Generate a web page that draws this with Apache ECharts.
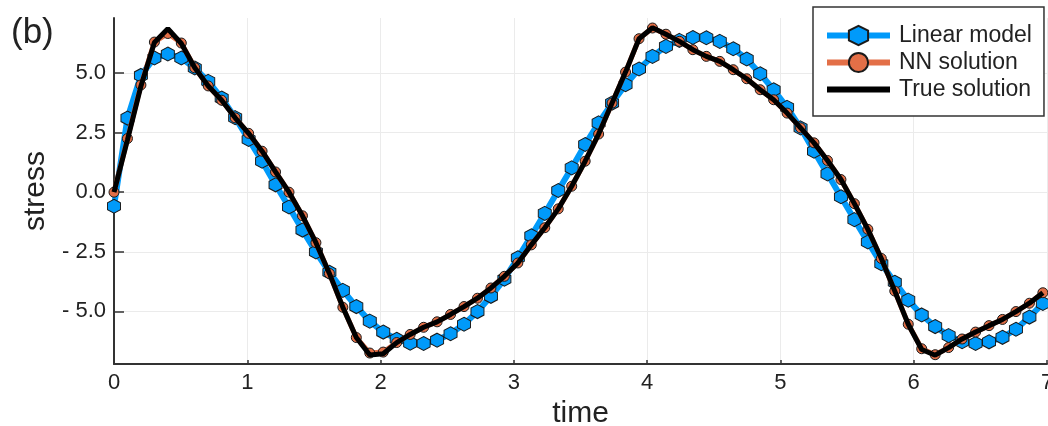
<!DOCTYPE html>
<html>
<head>
<meta charset="utf-8">
<script src="https://cdn.jsdelivr.net/npm/echarts@6/dist/echarts.min.js"></script>
<style>
  html, body { margin: 0; padding: 0; background: #fff; }
  #chart { width: 1048px; height: 426px; }
</style>
</head>
<body>
<div id="chart"></div>
<script>
// ---- data ----
const times = [0, 0.101, 0.202, 0.303, 0.404, 0.505, 0.606, 0.707, 0.808, 0.909,
  1.010, 1.111, 1.212, 1.313, 1.414, 1.515, 1.616, 1.717, 1.818, 1.919,
  2.020, 2.121, 2.222, 2.323, 2.424, 2.525, 2.626, 2.727, 2.828, 2.929,
  3.030, 3.131, 3.232, 3.333, 3.434, 3.535, 3.636, 3.737, 3.838, 3.939,
  4.040, 4.141, 4.242, 4.343, 4.444, 4.545, 4.646, 4.747, 4.848, 4.949,
  5.050, 5.151, 5.252, 5.353, 5.454, 5.555, 5.656, 5.757, 5.858, 5.959,
  6.060, 6.161, 6.262, 6.363, 6.464, 6.565, 6.666, 6.767, 6.868, 6.969];

const linearModel = [-0.59, 3.11, 4.90, 5.63, 5.80, 5.63, 5.21, 4.65, 3.95, 3.13,
  2.21, 1.30, 0.31, -0.62, -1.59, -2.51, -3.36, -4.12, -4.80, -5.41,
  -5.87, -6.17, -6.34, -6.35, -6.21, -5.94, -5.54, -5.01, -4.37, -3.65,
  -2.75, -1.83, -0.89, 0.07, 1.02, 2.00, 2.91, 3.74, 4.51, 5.17,
  5.70, 6.12, 6.37, 6.49, 6.48, 6.33, 6.02, 5.59, 4.97, 4.30,
  3.56, 2.70, 1.72, 0.77, -0.19, -1.15, -2.09, -3.00, -3.78, -4.53,
  -5.15, -5.64, -6.02, -6.27, -6.35, -6.28, -6.09, -5.75, -5.24, -4.67];

const nnSolution = [0.00, 2.25, 4.50, 6.30, 6.66, 6.26, 5.22, 4.46, 3.86, 3.12,
  2.47, 1.72, 0.85, 0.00, -0.99, -2.12, -3.41, -4.83, -6.10, -6.75,
  -6.71, -6.31, -5.97, -5.67, -5.44, -5.13, -4.80, -4.45, -4.02, -3.53,
  -2.97, -2.21, -1.49, -0.70, 0.25, 1.30, 2.44, 3.74, 5.04, 6.44,
  6.89, 6.63, 6.33, 5.98, 5.70, 5.49, 5.14, 4.76, 4.30, 3.88,
  3.32, 2.70, 2.07, 1.33, 0.53, -0.48, -1.56, -2.78, -4.15, -5.54,
  -6.57, -6.82, -6.52, -6.16, -5.87, -5.60, -5.34, -5.01, -4.66, -4.22];

const trueSolution = [0.00, 2.20, 4.45, 6.28, 6.86, 6.24, 5.22, 4.46, 3.86, 3.12,
  2.47, 1.72, 0.85, 0.00, -0.99, -2.12, -3.41, -4.83, -6.10, -6.83,
  -6.78, -6.31, -5.97, -5.67, -5.44, -5.13, -4.80, -4.45, -4.02, -3.53,
  -2.97, -2.21, -1.49, -0.70, 0.25, 1.30, 2.44, 3.74, 5.04, 6.44,
  6.90, 6.63, 6.33, 5.98, 5.70, 5.49, 5.14, 4.76, 4.30, 3.88,
  3.32, 2.70, 2.07, 1.33, 0.53, -0.48, -1.56, -2.78, -4.15, -5.54,
  -6.60, -6.84, -6.52, -6.16, -5.87, -5.60, -5.34, -5.01, -4.66, -4.22];

const yTicks = [-5, -2.5, 0, 2.5, 5];
const xTicks = [0, 1, 2, 3, 4, 5, 6, 7];
const seriesNames = ['Linear model', 'NN solution', 'True solution'];

// ---- chart ----
const FONT = 'Liberation Sans, Arial, Helvetica, sans-serif';
const pair = (arr) => arr.map((v, i) => [times[i], v]);
const hexagon = 'path://M0,-1 L0.866,-0.5 L0.866,0.5 L0,1 L-0.866,0.5 L-0.866,-0.5 Z';
const barIcon = 'path://M0,0 L63,0 L63,6 L0,6 Z';

const chart = echarts.init(document.getElementById('chart'), null, { renderer: 'canvas' });
chart.setOption({
  animation: false,
  backgroundColor: '#ffffff',
  textStyle: { fontFamily: FONT },
  grid: { left: 114, right: 1, top: 18, bottom: 62, containLabel: false, outerBoundsMode: 'none' },
  graphic: [{
    type: 'text', left: 11, top: 16,
    style: { text: '(b)', fontSize: 35, fontFamily: FONT, fill: '#222' }
  }],
  legend: {
    data: [
      { name: seriesNames[0] },
      { name: seriesNames[1] },
      { name: seriesNames[2], icon: barIcon }
    ],
    orient: 'vertical',
    left: 813, top: 7,
    padding: [17, 12, 15, 11],
    itemWidth: 63, itemHeight: 24, itemGap: 4,
    borderColor: '#333', borderWidth: 1.5,
    backgroundColor: '#fff',
    lineStyle: { width: 6 },
    textStyle: { fontSize: 23, color: '#222', fontFamily: FONT, padding: [0, 0, 0, 4] }
  },
  xAxis: {
    type: 'value', min: 0, max: 7, interval: 1,
    name: 'time', nameLocation: 'middle', nameGap: 31,
    nameTextStyle: { fontSize: 30, color: '#222', fontFamily: FONT },
    axisLine: { show: true, onZero: false, lineStyle: { color: '#333', width: 2 } },
    axisTick: { show: true, inside: true, length: 4, lineStyle: { color: '#333', width: 1.5 } },
    axisLabel: { fontSize: 22, color: '#222', margin: 8, fontFamily: FONT,
      formatter: (v) => xTicks.includes(v) ? String(v) : '' },
    splitLine: { show: true, lineStyle: { color: '#ebebeb', width: 1 } }
  },
  yAxis: {
    type: 'value', min: -7.21, max: 7.31,
    name: 'stress', nameLocation: 'middle', nameGap: 63, nameRotate: 90,
    nameTextStyle: { fontSize: 30, color: '#222', fontFamily: FONT },
    axisLine: { show: true, onZero: false, lineStyle: { color: '#333', width: 2 } },
    axisTick: { show: true, inside: true, length: 10, customValues: yTicks,
      lineStyle: { color: '#333', width: 1.5 } },
    axisLabel: { fontSize: 22, color: '#222', margin: 8, customValues: yTicks, fontFamily: FONT,
      formatter: (v) => v < 0 ? '- ' + Math.abs(v).toFixed(1) : v.toFixed(1) },
    splitLine: { show: true, lineStyle: { color: '#ebebeb', width: 1 } }
  },
  series: [
    {
      name: seriesNames[0], type: 'line', data: pair(linearModel),
      symbol: hexagon, symbolSize: [13, 14], showAllSymbol: true,
      lineStyle: { color: '#009AFA', width: 6 },
      itemStyle: { color: '#009AFA', borderColor: '#1a1a1a', borderWidth: 1 },
      z: 2
    },
    {
      name: seriesNames[1], type: 'line', data: pair(nnSolution),
      symbol: 'circle', symbolSize: 10, showAllSymbol: true,
      lineStyle: { color: '#E36F47', width: 5 },
      itemStyle: { color: '#E36F47', borderColor: '#1a1a1a', borderWidth: 1 },
      z: 3
    },
    {
      name: seriesNames[2], type: 'line', data: pair(trueSolution),
      symbol: 'none', showSymbol: false,
      lineStyle: { color: '#000000', width: 5 },
      itemStyle: { color: '#000000' },
      z: 4
    }
  ]
});
</script>
</body>
</html>
